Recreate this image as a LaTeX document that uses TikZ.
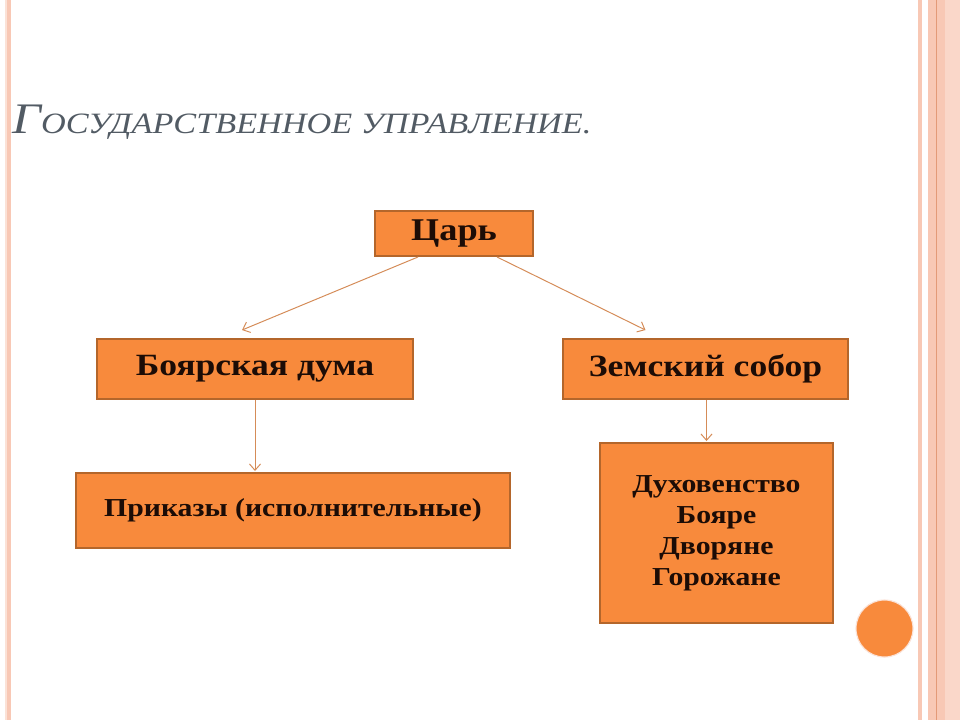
\documentclass[tikz,border=0pt]{standalone}
\usepackage{fontspec}
\setmainfont{Liberation Serif}[BoldFeatures={FakeStretch=1.15}, ItalicFeatures={FakeStretch=1.16}]
\usepackage{xcolor}
\usetikzlibrary{arrows.meta, calc}

\definecolor{boxfill}{HTML}{F88A3C}
\definecolor{boxline}{HTML}{B4662B}
\definecolor{arrowline}{HTML}{D58C58}
\definecolor{stripe}{HTML}{F8C8B5}
\definecolor{stripelight}{HTML}{FBE2D7}
\definecolor{stripedark}{HTML}{E39A78}
\definecolor{titlegray}{HTML}{525B64}
\definecolor{boxtext}{HTML}{1C0C06}

\begin{document}
\begin{tikzpicture}[x=0.25mm, y=-0.25mm, >={Straight Barb[length=1.6mm, width=2.8mm]}]
	\tikzstyle{orangebox} = [draw=boxline, fill=boxfill, line width=1.4pt, rectangle, inner sep=0pt, align=center, text=boxtext, font=\bfseries]
	\tikzstyle{link} = [draw=arrowline, line width=0.7pt]

	% page and side stripes
	\fill[white] (0,0) rectangle (960,720);
	\useasboundingbox (0,0) rectangle (960,720);
	\fill[stripelight] (5,0) rectangle (7,720);
	\fill[stripe] (7,0) rectangle (11,720);
	\fill[stripe] (918,0) rectangle (922,720);
	\fill[stripe] (928,0) rectangle (960,720);
	\fill[stripelight!60!stripe] (945,0) rectangle (960,720);
	\fill[stripedark] (935.5,0) rectangle (937,720);

	\node[anchor=base west, inner sep=0pt, text=titlegray, font=\itshape] at (12,133) (title)
		{\fontsize{31}{31}\selectfont Г\fontsize{21}{21}\selectfont ОСУДАРСТВЕННОЕ УПРАВЛЕНИЕ.};

	\node[orangebox, minimum width=39.5mm, minimum height=11.25mm, font=\bfseries\fontsize{22.5}{22.5}\selectfont] at (454,233.5) (tsar) {Царь};
	\node[orangebox, minimum width=79mm, minimum height=15mm, font=\bfseries\fontsize{22}{22}\selectfont] at (255,369) (duma) {Боярская дума};
	\node[orangebox, minimum width=71.25mm, minimum height=15mm, font=\bfseries\fontsize{22}{22}\selectfont] at (705.5,369) (sobor) {Земский собор};
	\node[orangebox, minimum width=108.5mm, minimum height=18.75mm, font=\bfseries\fontsize{18.4}{18.4}\selectfont] at (293,510.5) (prikaz) {Приказы (исполнительные)};
	\node[orangebox, minimum width=58.25mm, minimum height=45mm, font=\bfseries\fontsize{18.4}{22}\selectfont] at (716.5,533) (estates) {Духовенство\\Бояре\\Дворяне\\Горожане};

	\fill[boxfill, draw=stripelight, line width=0.8pt] (884.5,628.5) circle (28.5);

	\path[->]
	([xshift=-9mm]tsar.south)	edge[link]	([xshift=-3.25mm, yshift=2mm]duma.north)
	([xshift=10.75mm]tsar.south)	edge[link]	([xshift=-15mm, yshift=2mm]sobor.north)
	(duma.south)	edge[link]	([yshift=0.25mm]duma.south |- prikaz.north)
	([xshift=0.25mm]sobor.south)	edge[link]	([xshift=0.25mm, yshift=0.25mm]sobor.south |- estates.north);
\end{tikzpicture}
\end{document}
